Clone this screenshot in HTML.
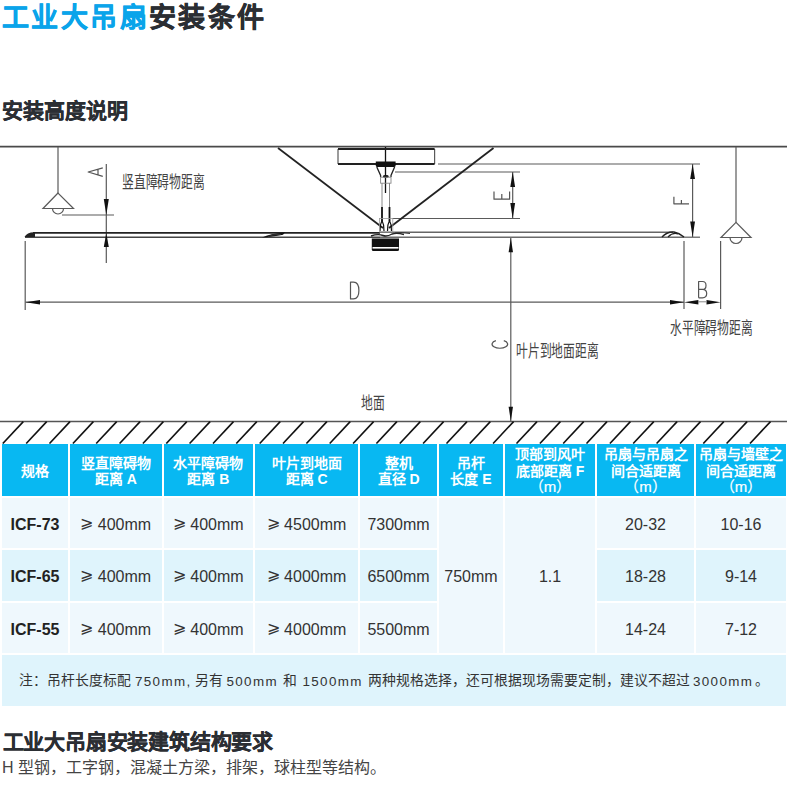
<!DOCTYPE html>
<html lang="zh-CN"><head><meta charset="utf-8">
<style>
html,body{margin:0;padding:0;background:#fff;}
body{width:790px;height:789px;position:relative;overflow:hidden;font-family:"Liberation Sans",sans-serif;}
.t{position:absolute;white-space:nowrap;line-height:1;}
.h1{left:2px;top:4.5px;font-size:27px;font-weight:bold;color:#2b2e33;-webkit-text-stroke:0.5px #2b2e33;letter-spacing:2.4px;}
.h1 b{-webkit-text-stroke:0.5px #0aa4ea;}
.h1 b{color:#0aa4ea;}
.h2{left:1.5px;top:100px;font-size:21px;font-weight:bold;color:#2b2e33;-webkit-text-stroke:0.3px #2b2e33;letter-spacing:0px;}
.lbl{font-size:17px;color:#444;transform-origin:0 0;transform:scaleX(0.695);}
.cell{position:absolute;display:flex;align-items:center;justify-content:center;text-align:center;}
.m{font-weight:normal;font-size:15px;-webkit-text-stroke:0.2px #fff;}
.hd{background:#08b8f2;color:#fff;font-weight:bold;font-size:14px;line-height:16.5px;padding-top:2px;box-sizing:border-box;}
.r1{background:#eff8fd;}
.r2{background:#dff4fc;}
.bd{color:#333;font-size:16px;padding-top:3px;box-sizing:border-box;}
.bb{color:#222;font-size:16px;font-weight:bold;padding-top:3px;box-sizing:border-box;}
.nt{top:674px;font-size:13.85px;color:#333;}
.nl{top:674.5px;font-size:13.4px;letter-spacing:1.35px;color:#333;}
.ge{position:relative;top:-2.5px;}
.note{position:absolute;left:2px;top:655px;width:784px;height:51px;background:#dff4fc;}
.h3{left:2.5px;top:731px;font-size:21px;font-weight:bold;color:#2b2e33;-webkit-text-stroke:0.3px #2b2e33;letter-spacing:-0.2px;}
.p{left:2px;top:760px;font-size:16px;color:#444;}
</style></head><body>
<div class="t h1"><b>工业大吊扇</b>安装条件</div>
<div class="t h2">安装高度说明</div>

<svg width="790" height="444" style="position:absolute;left:0;top:0">
<g stroke="#5a5a5a" stroke-width="1.2" fill="none">
 <!-- ceiling -->
 <line x1="0" y1="146.6" x2="787" y2="146.6" stroke="#4a4a4a" stroke-width="1.6"/>
 <!-- left lamp -->
 <line x1="58" y1="147" x2="58" y2="193"/>
 <polygon points="58,193 43,208.5 73.5,208.5"/>
 <path d="M52.5,208.5 A5.5,5.5 0 0 0 63.5,208.5"/>
 <line x1="62" y1="215" x2="114" y2="215"/>
 <!-- A dim -->
 <line x1="106.3" y1="164" x2="106.3" y2="263"/>
 <!-- right lamp -->
 <line x1="736" y1="147" x2="736" y2="222.4"/>
 <polygon points="736,222.4 721,237.5 751,237.5"/>
 <path d="M730,237.5 A6,6 0 0 0 742,237.5"/>
 <!-- extension lines -->
 <line x1="25.2" y1="241" x2="25.2" y2="310"/>
 <line x1="684" y1="241" x2="684" y2="309"/>
 <line x1="720.6" y1="241" x2="720.6" y2="309"/>
 <line x1="25.5" y1="302.2" x2="684" y2="302.2"/>
 <!-- F ext -->
 <line x1="438" y1="164" x2="700" y2="164"/>
 <line x1="683" y1="237.2" x2="700" y2="237.2"/>
 <line x1="692.6" y1="164" x2="692.6" y2="237"/>
 <!-- E ext -->
 <line x1="395" y1="172" x2="520" y2="172"/>
 <line x1="392" y1="218.5" x2="520" y2="218.5"/>
 <line x1="512.7" y1="172" x2="512.7" y2="218.5"/>
 <!-- C dim -->
 <line x1="510.8" y1="238" x2="510.8" y2="421"/>
 <!-- mount -->
 <line x1="338" y1="149" x2="338" y2="164"/>
 <line x1="434.6" y1="149" x2="434.6" y2="164"/>
 <line x1="385.5" y1="147" x2="385.5" y2="193" stroke="#111" stroke-width="1.3"/>
 <!-- blade bottom -->
 <line x1="25" y1="237.3" x2="380" y2="237.3" stroke="#444" stroke-width="1.4"/>
 <line x1="380" y1="237.3" x2="684" y2="237.3" stroke="#6a6a6a" stroke-width="1.4"/>
 <line x1="380" y1="232.3" x2="673" y2="232.3" stroke="#666" stroke-width="1.5"/>
 <!-- ground -->
 <line x1="0" y1="421.6" x2="787" y2="421.6" stroke="#555" stroke-width="1.5"/>
</g>
<g stroke="#222" stroke-width="1.8" fill="none">
 <line x1="33" y1="232.8" x2="380" y2="232.8"/>
 <line x1="338" y1="149" x2="434.6" y2="149"/>
 <line x1="338" y1="164" x2="434.6" y2="164"/>
 <line x1="278" y1="148" x2="383" y2="228"/>
 <line x1="493.5" y1="148" x2="389" y2="228"/>
</g>
<!-- blade tips -->
<path d="M24.5,237 Q27,232 35,232.3 L35,237 Z" fill="#222"/>
<path d="M262,237.6 Q270,233.5 285,232.6 L283,234.8 Q276,236.6 262,237.6 Z" fill="#111"/><path d="M268,236.5 Q275,233.8 281,234.5" stroke="#333" stroke-width="1.2" fill="none"/>
<path d="M662,237 Q667,231.5 674,232 Q679,233 684,237" stroke="#222" stroke-width="1.5" fill="none"/>
<path d="M668,237 Q673,232 678,234" stroke="#222" stroke-width="1.2" fill="none"/>
<!-- bracket -->
<path d="M375.8,161.5 L395.6,161.5 L395.6,165.5 Q395.6,167 394,167 L377.4,167 Q375.8,167 375.8,165.5 Z" fill="#111"/>
<path d="M376.8,167 L380.6,175.5 L380.6,177 M394.6,167 L391,175.5 L391,177" fill="none" stroke="#222" stroke-width="1.3"/>
<ellipse cx="385.8" cy="176.4" rx="3" ry="1.3" fill="#111"/>
<rect x="380.6" y="177.2" width="10.4" height="6" fill="none" stroke="#888" stroke-width="0.9"/>
<g fill="none">
<line x1="382" y1="183" x2="382" y2="207" stroke="#888" stroke-width="1"/>
<line x1="389.5" y1="183" x2="389.5" y2="207" stroke="#888" stroke-width="1"/>
<line x1="382" y1="207" x2="382" y2="221" stroke="#111" stroke-width="1.8"/>
<line x1="389.5" y1="207" x2="389.5" y2="221" stroke="#111" stroke-width="1.8"/>
<path d="M382,220.5 Q379.6,225 380,231 M382,220.5 Q384.4,225 384,231" stroke="#111" stroke-width="1.2"/>
<path d="M389.5,220.5 Q387.1,225 387.5,231 M389.5,220.5 Q391.9,225 391.5,231" stroke="#111" stroke-width="1.2"/>
<rect x="379.5" y="218.5" width="13.3" height="13.5" stroke="#999" stroke-width="0.8"/>
<path d="M371,236 Q378,233.5 383,235.5 Q387,237 392,234 Q397,232.5 404,234.5" stroke="#222" stroke-width="1.4"/>
<path d="M395,233 Q402,232 410,233.5" stroke="#333" stroke-width="1"/>
</g>
<!-- motor -->
<path d="M371.8,238.6 L399,238.6 L399,249.5 Q399,251 397.5,251 L373.3,251 Q371.8,251 371.8,249.5 Z" fill="#111"/>
<rect x="372.5" y="247" width="26" height="1.6" fill="#fff"/>
<!-- arrowheads -->
<g fill="#111">
 <polygon points="106.3,215 103.8,199 108.8,199"/>
 <polygon points="106.3,233 103.8,247 108.8,247"/>
 <polygon points="512.7,172 510.3,187 515.1,187"/>
 <polygon points="512.7,218.5 510.3,203 515.1,203"/>
 <polygon points="692.6,164 690.2,179 695,179"/>
 <polygon points="692.6,237 690.2,221.5 695,221.5"/>
 <polygon points="510.8,238 508.6,252.3 513,252.3"/>
 <polygon points="510.8,421 508.6,406.7 513,406.7"/>
 <polygon points="25.5,302.2 40,299.9 40,304.5"/>
 <polygon points="684,302.2 670,299.9 670,304.5"/>
 <polygon points="684,302.2 698.4,299.9 698.4,304.5"/>
 <polygon points="720.6,302.2 706.5,299.9 706.5,304.5"/>
</g>
<line x1="698" y1="301.8" x2="707" y2="301.8" stroke="#888" stroke-width="1"/>
<!-- letters -->
<g stroke="#555" stroke-width="1.2" fill="none" stroke-linejoin="round">
 <!-- A rotated -->
 <path d="M102.8,167.8 L88.2,172 L102.8,176.4 M98,169.2 L98,174.9"/>
 <!-- B -->
 <path d="M698.6,297.8 L698.6,281.5 L702.5,281.5 Q706,281.5 706,285.4 Q706,289.4 702.5,289.4 L698.6,289.4 M702.5,289.4 Q706.7,289.4 706.7,293.6 Q706.7,297.8 702.5,297.8 L698.6,297.8"/>
 <!-- D -->
 <path d="M350.5,282.1 L350.5,298.9 L353.5,298.9 Q358.9,298.9 358.9,290.5 Q358.9,282.1 353.5,282.1 Z"/>
 <!-- E rotated -->
 <path d="M494,191.6 L494,199.2 L509.6,199.2 L509.6,191.6 M501.8,199.2 L501.8,194"/>
 <!-- F rotated -->
 <path d="M689,203.8 L673.9,203.8 L673.9,196.7 M681.4,203.8 L681.4,200.1"/>
 <!-- C rotated -->
 <path d="M495.9,340.6 A7.8,4.1 0 1 0 503.8,340.6"/>
</g>
<!-- hatching -->
<g stroke="#111" stroke-width="1.6"><line x1="23.3" y1="421.6" x2="2.8" y2="443.5"/><line x1="46.7" y1="421.6" x2="26.2" y2="443.5"/><line x1="70.0" y1="421.6" x2="49.5" y2="443.5"/><line x1="93.4" y1="421.6" x2="72.9" y2="443.5"/><line x1="116.7" y1="421.6" x2="96.2" y2="443.5"/><line x1="140.1" y1="421.6" x2="119.6" y2="443.5"/><line x1="163.4" y1="421.6" x2="142.9" y2="443.5"/><line x1="186.8" y1="421.6" x2="166.3" y2="443.5"/><line x1="210.1" y1="421.6" x2="189.6" y2="443.5"/><line x1="233.5" y1="421.6" x2="213.0" y2="443.5"/><line x1="256.8" y1="421.6" x2="236.3" y2="443.5"/><line x1="280.2" y1="421.6" x2="259.7" y2="443.5"/><line x1="303.5" y1="421.6" x2="283.0" y2="443.5"/><line x1="326.9" y1="421.6" x2="306.4" y2="443.5"/><line x1="350.2" y1="421.6" x2="329.7" y2="443.5"/><line x1="373.6" y1="421.6" x2="353.1" y2="443.5"/><line x1="396.9" y1="421.6" x2="376.4" y2="443.5"/><line x1="420.3" y1="421.6" x2="399.8" y2="443.5"/><line x1="443.6" y1="421.6" x2="423.1" y2="443.5"/><line x1="467.0" y1="421.6" x2="446.5" y2="443.5"/><line x1="490.3" y1="421.6" x2="469.8" y2="443.5"/><line x1="513.6" y1="421.6" x2="493.1" y2="443.5"/><line x1="537.0" y1="421.6" x2="516.5" y2="443.5"/><line x1="560.4" y1="421.6" x2="539.9" y2="443.5"/><line x1="583.7" y1="421.6" x2="563.2" y2="443.5"/><line x1="607.0" y1="421.6" x2="586.5" y2="443.5"/><line x1="630.4" y1="421.6" x2="609.9" y2="443.5"/><line x1="653.8" y1="421.6" x2="633.2" y2="443.5"/><line x1="677.1" y1="421.6" x2="656.6" y2="443.5"/><line x1="700.5" y1="421.6" x2="680.0" y2="443.5"/><line x1="723.8" y1="421.6" x2="703.3" y2="443.5"/><line x1="747.1" y1="421.6" x2="726.6" y2="443.5"/><line x1="770.5" y1="421.6" x2="750.0" y2="443.5"/></g>
</svg>

<div class="t lbl" style="left:122px;top:174px;">竖直障碍物距离</div>
<div class="t lbl" style="left:670px;top:320px;">水平障碍物距离</div>
<div class="t lbl" style="left:516px;top:343px;">叶片到地面距离</div>
<div class="t lbl" style="left:361px;top:395px;">地面</div>

<!-- table header -->
<div class="cell hd" style="left:2px;top:444px;width:66px;height:52px;"><div>规格</div></div>
<div class="cell hd" style="left:70px;top:444px;width:91.5px;height:52px;"><div>竖直障碍物<br>距离 A</div></div>
<div class="cell hd" style="left:163.5px;top:444px;width:89.5px;height:52px;"><div>水平障碍物<br>距离 B</div></div>
<div class="cell hd" style="left:255px;top:444px;width:103px;height:52px;"><div>叶片到地面<br>距离 C</div></div>
<div class="cell hd" style="left:360px;top:444px;width:77px;height:52px;"><div>整机<br>直径 D</div></div>
<div class="cell hd" style="left:439px;top:444px;width:64px;height:52px;"><div>吊杆<br>长度 E</div></div>
<div class="cell hd" style="left:505px;top:444px;width:90px;height:52px;"><div>顶部到风叶<br>底部距离 F<br><span class="m">（m）</span></div></div>
<div class="cell hd" style="left:597px;top:444px;width:97px;height:52px;"><div>吊扇与吊扇之<br>间合适距离<br><span class="m">（m）</span></div></div>
<div class="cell hd" style="left:696px;top:444px;width:90px;height:52px;"><div>吊扇与墙壁之<br>间合适距离<br><span class="m">（m）</span></div></div>

<!-- rows -->
<div class="cell r1 bb" style="left:2px;top:498px;width:66px;height:50px;"><div>ICF-73</div></div>
<div class="cell r1 bd" style="left:70px;top:498px;width:91.5px;height:50px;"><div><span class="ge">⩾</span> 400mm</div></div>
<div class="cell r1 bd" style="left:163.5px;top:498px;width:89.5px;height:50px;"><div><span class="ge">⩾</span> 400mm</div></div>
<div class="cell r1 bd" style="left:255px;top:498px;width:103px;height:50px;"><div><span class="ge">⩾</span> 4500mm</div></div>
<div class="cell r1 bd" style="left:360px;top:498px;width:77px;height:50px;"><div>7300mm</div></div>
<div class="cell r1 bd" style="left:597px;top:498px;width:97px;height:50px;"><div>20-32</div></div>
<div class="cell r1 bd" style="left:696px;top:498px;width:90px;height:50px;"><div>10-16</div></div>

<div class="cell r2 bb" style="left:2px;top:550px;width:66px;height:51px;padding-top:2px;"><div>ICF-65</div></div>
<div class="cell r2 bd" style="left:70px;top:550px;width:91.5px;height:51px;padding-top:2px;"><div><span class="ge">⩾</span> 400mm</div></div>
<div class="cell r2 bd" style="left:163.5px;top:550px;width:89.5px;height:51px;padding-top:2px;"><div><span class="ge">⩾</span> 400mm</div></div>
<div class="cell r2 bd" style="left:255px;top:550px;width:103px;height:51px;padding-top:2px;"><div><span class="ge">⩾</span> 4000mm</div></div>
<div class="cell r2 bd" style="left:360px;top:550px;width:77px;height:51px;padding-top:2px;"><div>6500mm</div></div>
<div class="cell r2 bd" style="left:597px;top:550px;width:97px;height:51px;padding-top:2px;"><div>18-28</div></div>
<div class="cell r2 bd" style="left:696px;top:550px;width:90px;height:51px;padding-top:2px;"><div>9-14</div></div>

<div class="cell r1 bb" style="left:2px;top:603px;width:66px;height:50px;"><div>ICF-55</div></div>
<div class="cell r1 bd" style="left:70px;top:603px;width:91.5px;height:50px;"><div><span class="ge">⩾</span> 400mm</div></div>
<div class="cell r1 bd" style="left:163.5px;top:603px;width:89.5px;height:50px;"><div><span class="ge">⩾</span> 400mm</div></div>
<div class="cell r1 bd" style="left:255px;top:603px;width:103px;height:50px;"><div><span class="ge">⩾</span> 4000mm</div></div>
<div class="cell r1 bd" style="left:360px;top:603px;width:77px;height:50px;"><div>5500mm</div></div>
<div class="cell r1 bd" style="left:597px;top:603px;width:97px;height:50px;"><div>14-24</div></div>
<div class="cell r1 bd" style="left:696px;top:603px;width:90px;height:50px;"><div>7-12</div></div>

<div class="cell r1 bd" style="left:439px;top:498px;width:64px;height:155px;"><div>750mm</div></div>
<div class="cell r1 bd" style="left:505px;top:498px;width:90px;height:155px;"><div>1.1</div></div>

<div class="note"></div>
<div class="t nt" style="left:19px;">注：吊杆长度标配</div>
<div class="t nl" style="left:135px;">750mm,</div>
<div class="t nt" style="left:194.5px;">另有</div>
<div class="t nl" style="left:226.5px;">500mm</div>
<div class="t nt" style="left:283px;">和</div>
<div class="t nl" style="left:302.5px;">1500mm</div>
<div class="t nt" style="left:367.5px;">两种规格选择，还可根据现场需要定制，建议不超过</div>
<div class="t nl" style="left:693px;">3000mm</div>
<div class="t nt" style="left:754.5px;">。</div>

<div class="t h3">工业大吊扇安装建筑结构要求</div>
<div class="t p">H 型钢，工字钢，混凝土方梁，排架，球柱型等结构。</div>
</body></html>
